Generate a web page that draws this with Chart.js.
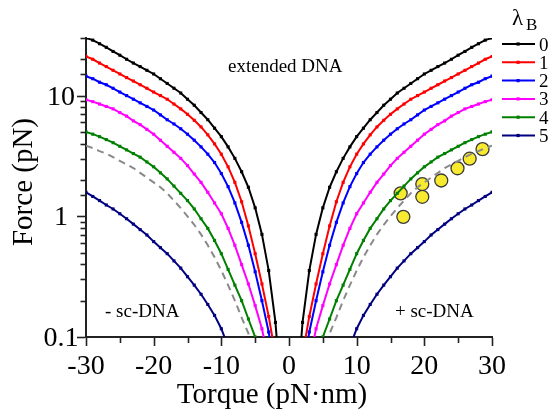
<!DOCTYPE html>
<html><head><meta charset="utf-8">
<script src="https://cdn.jsdelivr.net/npm/chart.js@4/dist/chart.umd.min.js"></script>
<style>html,body{margin:0;padding:0;background:#fff;}</style>
</head><body>
<canvas id="c" width="552" height="414"></canvas>
<script>
// ---- data (torque in pN·nm, force in pN); each curve is mirrored for ± torque ----
const torque = [1,2,3,4,5,6,7,8,9,10,11,12,13,14,15,16,17,18,19,20,21,22,23,24,25,26,27,28,29,30];
const lambdaB = ['0','1','2','3','4','5'];
const force0 = [0.025,0.132,0.355,0.708,1.175,1.74,2.34,3.02,3.76,4.57,5.37,6.31,7.24,8.32,9.33,10.5,11.5,12.6,13.8,15.1,16.2,17.4,18.6,20.0,21.6,23.2,25.1,26.9,28.8,30.0];
const force1 = [null,0.0708,0.148,0.275,0.490,0.832,1.32,1.91,2.57,3.27,3.98,4.73,5.50,6.24,7.00,7.76,8.51,9.33,10.0,10.7,11.5,12.3,13.2,14.1,15.1,16.2,17.4,18.6,20.0,21.1];
const force2 = [null,0.050,0.110,0.200,0.347,0.575,0.891,1.29,1.76,2.26,2.79,3.27,3.76,4.27,4.79,5.31,5.82,6.31,6.92,7.59,8.13,8.71,9.33,10.0,10.7,11.5,12.3,12.9,13.8,14.5];
const force3 = [null,null,0.063,0.117,0.182,0.275,0.398,0.575,0.794,1.05,1.29,1.58,1.91,2.24,2.63,3.02,3.39,3.80,4.27,4.79,5.25,5.75,6.17,6.76,7.24,7.76,8.13,8.51,8.91,9.23];
const force4 = [null,null,null,0.063,0.100,0.141,0.200,0.269,0.363,0.490,0.631,0.794,0.955,1.15,1.35,1.55,1.78,2.04,2.29,2.57,2.82,3.09,3.31,3.55,3.80,4.07,4.32,4.57,4.79,5.01];
const force5 = [null,null,null,null,null,null,null,null,0.0832,0.117,0.151,0.186,0.226,0.269,0.316,0.372,0.427,0.490,0.550,0.617,0.700,0.776,0.861,0.955,1.05,1.15,1.24,1.35,1.46,1.58];
const forceDashed = [null,null,null,null,0.0708,0.107,0.145,0.200,0.269,0.355,0.457,0.575,0.708,0.851,1.00,1.17,1.35,1.55,1.74,1.91,2.09,2.29,2.51,2.69,2.88,3.09,3.31,3.47,3.67,3.85];
const expTorque = [16.5,16.9,19.7,19.7,22.5,24.9,26.7,28.6];
const expForce  = [1.55,0.99,1.85,1.45,1.98,2.50,3.00,3.60];
const xTickLabels = ['-30','-20','-10','0','10','20','30'];
const yTickLabels = ['0.1','1','10'];

const colors = ['#000000','#ff0000','#0000ff','#ff00ff','#008000','#000080'];
const serif = "'Liberation Serif','DejaVu Serif',serif";

function mirrored(vals){
  const pts = [];
  for (let i = torque.length-1; i >= 0; i--) if (vals[i] != null) pts.push({x:-torque[i], y:vals[i]});
  pts.push({x:0, y:null});
  for (let i = 0; i < torque.length; i++) if (vals[i] != null) pts.push({x:torque[i], y:vals[i]});
  return pts;
}

const curves = [force0, force1, force2, force3, force4, force5];
const datasets = [];
datasets.push({
  label:'dashed', data: mirrored(forceDashed), borderColor:'#8a8a8a', borderWidth:2,
  borderDash:[7,5], pointRadius:0, showLine:true, spanGaps:false, tension:0
});
curves.slice().reverse().forEach((vals, k) => {
  const i = curves.length-1-k;
  datasets.push({
    label: lambdaB[i], data: mirrored(vals), borderColor: colors[i], backgroundColor: colors[i],
    borderWidth: 2, pointStyle:'rect', pointRadius: 2.2, pointBorderWidth: 0,
    showLine:true, spanGaps:false, tension:0
  });
});
datasets.push({
  label:'exp', data: expTorque.map((t,i)=>({x:t, y:expForce[i]})), showLine:false,
  pointRadius:6.5, pointBackgroundColor:'#f8ea2e', pointBorderColor:'#3a3a3a', pointBorderWidth:1.3
});

function yLabel(v){ return yTickLabels.find(s => Math.abs(parseFloat(s)-v) < 1e-9*Math.max(1,v)) || ''; }
function labelX(v){ const s = String(v); return xTickLabels.includes(s) ? s : ''; }

const decor = {
  id:'decor',
  afterDraw(chart){
    const ctx = chart.ctx, xs = chart.scales.x, ys = chart.scales.y, a = chart.chartArea;
    ctx.save();
    ctx.strokeStyle = '#222'; ctx.lineWidth = 1.6;
    // y ticks + labels
    ctx.fillStyle = '#000';
    ctx.font = '28px ' + serif; ctx.textAlign = 'center'; ctx.textBaseline = 'middle';
    ys.ticks.forEach(t => {
      const y = Math.round(ys.getPixelForValue(t.value))+0.5;
      const lab = yLabel(t.value);
      const len = lab ? 8 : 4.5;
      ctx.beginPath(); ctx.moveTo(a.left-1, y); ctx.lineTo(a.left-1-len, y); ctx.stroke();
      if (lab) ctx.fillText(lab, 61, y+1);
    });
    // x ticks
    xs.ticks.forEach(t => {
      const x = Math.round(xs.getPixelForValue(t.value))+0.5;
      const len = labelX(t.value) ? 8 : 5;
      ctx.beginPath(); ctx.moveTo(x, a.bottom+1); ctx.lineTo(x, a.bottom+1+len); ctx.stroke();
    });
    // axis titles
    ctx.font = '29px ' + serif; ctx.textAlign = 'center'; ctx.textBaseline = 'alphabetic';
    ctx.fillText('Torque (pN·nm)', 272, 403);
    ctx.save(); ctx.translate(32, 182); ctx.rotate(-Math.PI/2);
    ctx.fillText('Force (pN)', 0, 0); ctx.restore();
    // annotations
    ctx.font = '19px ' + serif; ctx.textAlign = 'left';
    ctx.fillText('extended DNA', 228, 72);
    ctx.fillText('- sc-DNA', 105, 317);
    ctx.fillText('+ sc-DNA', 395, 317);
    // legend
    ctx.font = '23px ' + serif; ctx.fillText('λ', 512, 25);
    ctx.font = '17px ' + serif; ctx.fillText('B', 526, 30);
    ctx.font = '19px ' + serif;
    lambdaB.forEach((lab, i) => {
      const y = 44 + i*18.3;
      ctx.strokeStyle = colors[i]; ctx.lineWidth = 2;
      ctx.beginPath(); ctx.moveTo(502, y); ctx.lineTo(535, y); ctx.stroke();
      ctx.fillStyle = colors[i]; ctx.fillRect(516.5, y-1.6, 3.2, 3.2);
      ctx.fillStyle = '#000'; ctx.fillText(lab, 539, y+6.5);
    });
    ctx.restore();
  }
};

new Chart(document.getElementById('c'), {
  type:'scatter',
  data:{ datasets },
  plugins:[decor],
  options:{
    responsive:false, animation:false, devicePixelRatio:1,
    layout:{ padding:{ left:0, top:38, right:60, bottom:0 } },
    plugins:{ legend:{display:false}, tooltip:{enabled:false} },
    scales:{
      x:{ type:'linear', min:-30, max:30,
          afterFit:(s)=>{ s.height = 77; },
          grid:{ display:false, drawTicks:false },
          border:{ display:true, color:'#222', width:2 },
          ticks:{ stepSize:5, autoSkip:false, maxRotation:0, padding:13, color:'#000',
                  font:{ family:serif, size:28 }, callback:(v)=>labelX(v) } },
      y:{ type:'logarithmic', min:0.1, max:30,
          afterFit:(s)=>{ s.width = 86; },
          grid:{ display:false, drawTicks:false },
          border:{ display:true, color:'#222', width:2 },
          ticks:{ display:false, autoSkip:false } }
    }
  }
});
</script>
</body></html>
